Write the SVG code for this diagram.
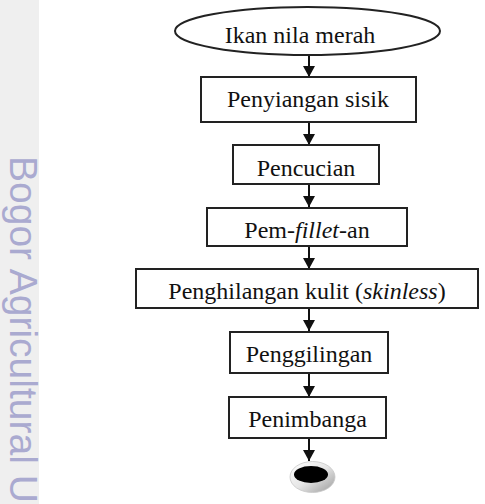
<svg xmlns="http://www.w3.org/2000/svg" width="485" height="504" viewBox="0 0 485 504">
<defs>
<style>
.box{fill:#fff;stroke:#222;stroke-width:2}
.lbl{font-family:"Liberation Serif","Times New Roman",serif;font-size:24px;fill:#111;text-anchor:middle}
.conn{stroke:#111;stroke-width:2;fill:none;marker-end:url(#ah)}
.wm{font-family:"Liberation Sans",Arial,sans-serif;font-size:39px;fill:#aaaad0}
</style>
<marker id="ah" markerUnits="userSpaceOnUse" viewBox="0 0 11 12" markerWidth="11" markerHeight="12" refX="11" refY="6" orient="auto">
<path d="M0,0 L11,6 L0,12 z" fill="#111"/>
</marker>
<linearGradient id="ring" x1="0" y1="0" x2="1" y2="1">
<stop offset="0" stop-color="#ffffff"/>
<stop offset="0.5" stop-color="#e6e6e6"/>
<stop offset="1" stop-color="#9a9a9a"/>
</linearGradient>
</defs>
<rect x="0" y="0" width="485" height="504" fill="#fff"/>
<rect x="0" y="0" width="39" height="504" fill="#efefef"/>
<text class="wm" transform="translate(10,156) rotate(90)">Bogor Agricultural U</text>

<g id="connectors">
<path class="conn" d="M309,55 V77"/>
<path class="conn" d="M309,122 V145"/>
<path class="conn" d="M309,184 V207"/>
<path class="conn" d="M309,246 V269"/>
<path class="conn" d="M309,308 V331"/>
<path class="conn" d="M309,373 V397"/>
<path class="conn" d="M309,438 V461"/>
</g>

<g id="start">
<ellipse cx="307.5" cy="31" rx="132.5" ry="24" class="box"/>
<text class="lbl" x="300" y="43">Ikan nila merah</text>
</g>
<g id="n1">
<rect class="box" x="201" y="77" width="215" height="45"/>
<text class="lbl" x="308" y="107">Penyiangan sisik</text>
</g>
<g id="n2">
<rect class="box" x="233" y="145" width="146" height="39"/>
<text class="lbl" x="306" y="176">Pencucian</text>
</g>
<g id="n3">
<rect class="box" x="207" y="208" width="200" height="38"/>
<text class="lbl" x="307" y="238">Pem-<tspan font-style="italic">fillet</tspan>-an</text>
</g>
<g id="n4">
<rect class="box" x="136" y="269" width="342" height="39"/>
<text class="lbl" x="307" y="299">Penghilangan kulit (<tspan font-style="italic">skinless</tspan>)</text>
</g>
<g id="n5">
<rect class="box" x="230" y="332" width="158" height="41"/>
<text class="lbl" x="309" y="362">Penggilingan</text>
</g>
<g id="n6">
<rect class="box" x="229" y="397" width="157" height="41"/>
<text class="lbl" x="307.5" y="427">Penimbanga</text>
</g>
<g id="end">
<ellipse cx="312.5" cy="477" rx="22.5" ry="15.5" fill="url(#ring)" stroke="#c8c8c8" stroke-width="0.8"/>
<ellipse cx="311" cy="474.5" rx="17" ry="8.5" fill="#000"/>
</g>
</svg>
